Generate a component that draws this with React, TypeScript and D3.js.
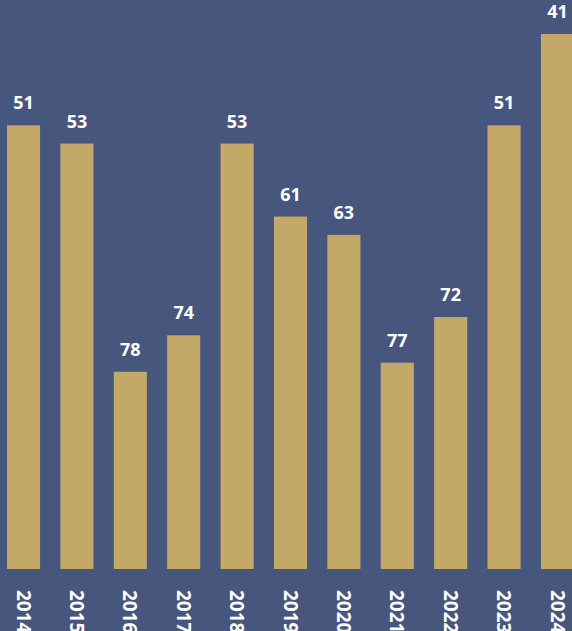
import * as React from 'react';
import { scaleBand, scaleLinear } from 'd3';

const years = ['2014', '2015', '2016', '2017', '2018', '2019', '2020', '2021', '2022', '2023', '2024'];
const ranks = [51, 53, 78, 74, 53, 61, 63, 77, 72, 51, 41];

const W = 572;
const H = 631;
const bg = '#47567c';
const barColor = '#c4a867';

const App = () => {
    React.useEffect(() => {
        document.body.style.margin = '0';
    }, []);

    const x = scaleBand<string>()
        .domain(years)
        .range([7, 574])
        .paddingInner(0.38)
        .paddingOuter(0);

    // rank chart: smaller number = taller bar
    const y = scaleLinear()
        .domain([99.6, 41])
        .range([569, 34]);
    const base = y(99.6);

    return (
        <svg width={W} height={H} style={{ display: 'block', background: bg }}>
            <rect width={W} height={H} fill={bg} />
            {years.map((yr, i) => {
                const cx = x(yr)! + x.bandwidth() / 2;
                return (
                    <g key={yr}>
                        <rect x={x(yr)} y={y(ranks[i])} width={x.bandwidth()} height={base - y(ranks[i])} fill={barColor} />
                        <text x={cx} y={y(ranks[i]) - 16} textAnchor="middle" fill="#fff"
                            style={{ font: '700 18px "Open Sans", sans-serif' }}>{ranks[i]}</text>
                        <text transform={`translate(${cx},590) rotate(90)`} dy="0.36em" fill="#fff"
                            style={{ font: '700 19px "Open Sans", sans-serif' }}>{yr}</text>
                    </g>
                );
            })}
        </svg>
    );
};

export default App;
